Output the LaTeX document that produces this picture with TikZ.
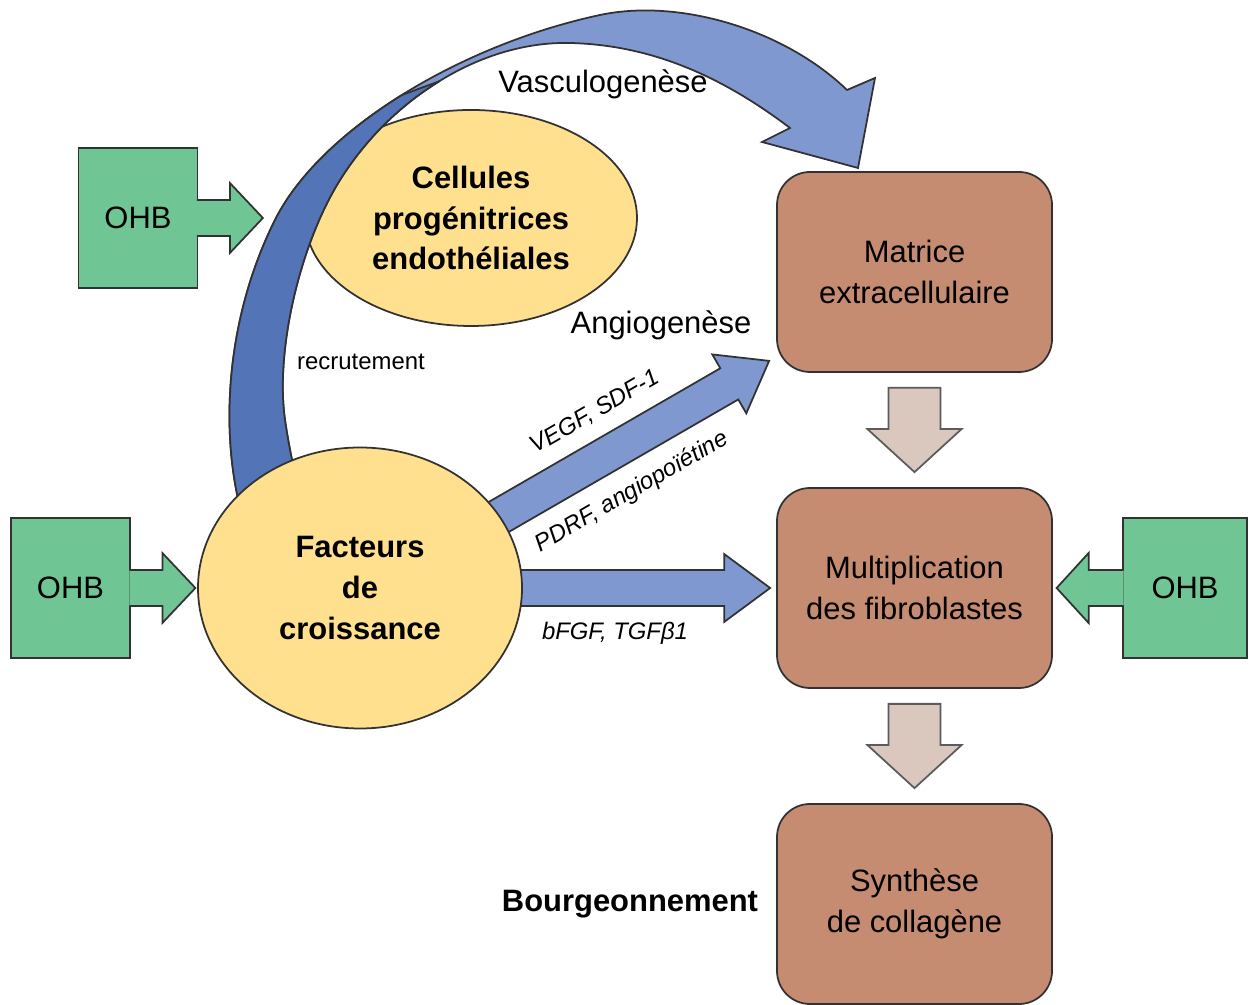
\documentclass[tikz,border=0pt]{standalone}
\usepackage{fontspec}
\setmainfont{Liberation Sans}
\usetikzlibrary{calc,shapes.geometric,backgrounds}

\definecolor{ohbgreen}{RGB}{112,197,148}
\definecolor{gfyellow}{RGB}{254,224,143}
\definecolor{cellbrown}{RGB}{197,140,114}
\definecolor{lightblue}{RGB}{127,152,207}
\definecolor{darkblue}{RGB}{84,116,184}
\definecolor{taupe}{RGB}{218,199,190}
\definecolor{outline}{RGB}{50,50,50}

\begin{document}
\begin{tikzpicture}[x=0.1mm, y=-0.1mm,
		every node/.style={font=\fontsize{8.8}{11.6}\selectfont, align=center},
		ohbbox/.style={draw=outline, line width=0.5pt, fill=ohbgreen, minimum width=11.9mm, minimum height=14mm, inner sep=0pt},
		ohbarrow/.style={draw=outline, line width=0.5pt, fill=ohbgreen, line join=miter},
		yellowbub/.style={ellipse, draw=outline, line width=0.5pt, fill=gfyellow, inner sep=0pt, font=\fontsize{8.8}{11.6}\selectfont\bfseries},
		stagebox/.style={draw=outline, line width=0.5pt, fill=cellbrown, rounded corners=3.3mm, minimum width=27.5mm, minimum height=20mm},
		bigarrow/.style={draw=outline, line width=0.5pt, fill=lightblue, line join=miter},
		downarrow/.style={draw=outline!80, line width=0.5pt, fill=taupe, line join=miter},
		ribbon/.style={draw=outline, line width=0.5pt, line join=miter},
		smalllabel/.style={font=\fontsize{6.8}{8}\selectfont\itshape}
	]
	\useasboundingbox (0,0) rectangle (1252,1005);

	% growth factors and the three stages
	\node[yellowbub, minimum width=32.4mm, minimum height=28.1mm] (fac) at (360,588) {Facteurs\\de\\croissance};
	\node[stagebox] (mat) at (914.5,272) {Matrice\\extracellulaire};
	\node[stagebox] (mult) at (914.5,588) {Multiplication\\des fibroblastes};
	\node[stagebox] (syn) at (914.5,904) {Synthèse\\de collagène};

	% OHB boxes
	\node[ohbbox] (ohbA) at (138,218) {OHB};
	\node[ohbbox] (ohbB) at (70.5,588) {OHB};
	\node[ohbbox, minimum width=12.4mm] (ohbC) at (1185,588) {OHB};
	\filldraw[ohbarrow] ($(ohbA.east)+(-1.5,-18)$) -- ++(33,0) -- ++(0,-17) -- ++(33,35) -- ++(-33,35) -- ++(0,-17) -- ++(-33,0);
	\filldraw[ohbarrow] ($(ohbB.east)+(-1.5,-18)$) -- ++(33,0) -- ++(0,-17) -- ++(33,35) -- ++(-33,35) -- ++(0,-17) -- ++(-33,0);
	\filldraw[ohbarrow] ($(ohbC.west)+(1.5,-18)$) -- ++(-35,0) -- ++(0,-17) -- ++(-32,35) -- ++(32,35) -- ++(0,-17) -- ++(35,0);

	% down arrows between stages
	\filldraw[downarrow] ($(mat.south)+(-26,15)$) -- ($(mat.south)+(26,15)$) -- ($(mult.north)+(26,-58)$) -- ($(mult.north)+(47,-58)$)
		-- ($(mult.north)+(0,-15)$) -- ($(mult.north)+(-47,-58)$) -- ($(mult.north)+(-26,-58)$) -- cycle;
	\filldraw[downarrow] ($(mult.south)+(-26,15)$) -- ($(mult.south)+(26,15)$) -- ($(syn.north)+(26,-58)$) -- ($(syn.north)+(47,-58)$)
		-- ($(syn.north)+(0,-15)$) -- ($(syn.north)+(-47,-58)$) -- ($(syn.north)+(-26,-58)$) -- cycle;

	\begin{pgfonlayer}{background}
		\node[yellowbub, minimum width=33.2mm, minimum height=21.6mm] (cel) at (471,218) {Cellules\\progénitrices\\endothéliales};
		% vasculogenesis ribbon, light front and dark back part
		\filldraw[ribbon, fill=lightblue] (252,545) .. controls (218,460) and (220,330) .. (275,220)
			.. controls (320,130) and (460,45) .. (600,15) .. controls (680,-2) and (785,30) .. (847,90)
			-- (875,78) -- (858,168) -- (762,142) -- (790,128)
			.. controls (720,75) and (650,45) .. (570,43) .. controls (480,41) and (390,100) .. (340,180)
			.. controls (300,244) and (275,350) .. (285,420) .. controls (290,455) and (300,500) .. (314,545) -- cycle;
		\filldraw[ribbon, fill=darkblue] (252,545) .. controls (218,460) and (220,330) .. (275,220)
			.. controls (297.5,175) and (343.75,131.25) .. (402,95) -- (440,81)
			.. controls (400,105) and (365,140) .. (340,180)
			.. controls (300,244) and (275,350) .. (285,420) .. controls (290,455) and (300,500) .. (314,545) -- cycle;
		% angiogenesis arrows
		\filldraw[bigarrow] ($(fac.east)+(-10,-18)$) -- ($(mult.west)+(-52,-18)$) -- ($(mult.west)+(-52,-34)$) -- ($(mult.west)+(-6,0)$)
			-- ($(mult.west)+(-52,34)$) -- ($(mult.west)+(-52,18)$) -- ($(fac.east)+(-10,18)$) -- cycle;
		\begin{scope}[shift={($(mat.south west)+(-7,-12)$)}, rotate=30]
			\filldraw[bigarrow] (0,0) -- (-46,-34) -- (-46,-18) -- (-340,-18) -- (-340,18) -- (-46,18) -- (-46,34) -- cycle;
		\end{scope}
	\end{pgfonlayer}

	% labels
	\node (vasc) at (603,84) {Vasculogenèse};
	\node (angio) at (661,325) {Angiogenèse};
	\node[font=\fontsize{6.8}{8}\selectfont] (recr) at (361,362) {recrutement};
	\node[smalllabel, rotate=30] (vegf) at (595,412) {VEGF, SDF-1};
	\node[smalllabel, rotate=30] (pdrf) at (632,492) {PDRF, angiopoïétine};
	\node[smalllabel] (bfgf) at (615,633) {bFGF, TGFβ1};
	\node[font=\fontsize{8.8}{11.6}\selectfont\bfseries] (bourg) at (630,904) {Bourgeonnement};
\end{tikzpicture}
\end{document}
